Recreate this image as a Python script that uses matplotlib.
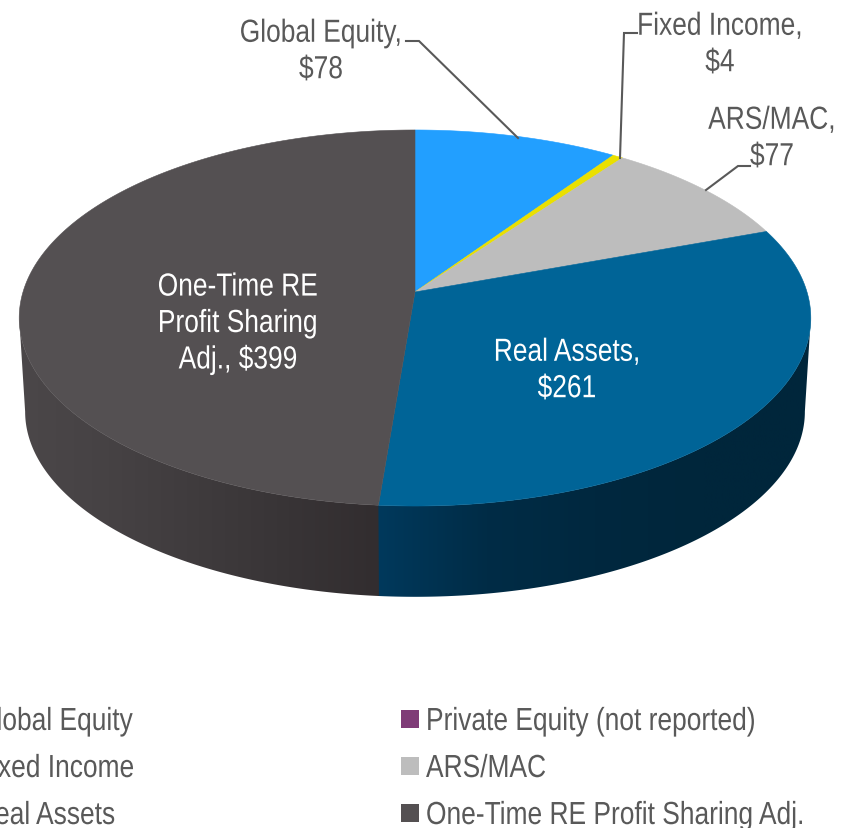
import numpy as np
import matplotlib
matplotlib.use("Agg")
import matplotlib.pyplot as plt
from matplotlib.colors import to_rgb
from matplotlib.patches import Polygon
from matplotlib.patheffects import AbstractPathEffect
from matplotlib.transforms import Affine2D

categories = ["Global Equity", "Private Equity (not reported)", "Fixed Income", "ARS/MAC", "Real Assets", "One-Time RE Profit Sharing Adj."]
values = [78, 0, 4, 77, 261, 399]
colors = ["#229FFF", "#7F3B77", "#EAE000", "#BDBDBD", "#006497", "#545052"]

plt.rcParams["font.family"] = ["Liberation Sans", "DejaVu Sans"]
FS = 23
GREY = "#595959"
NARROW = 0.825


class Condense(AbstractPathEffect):
    """Draw the text narrower about a fixed x, as no narrow face is installed."""
    def __init__(self, cx, factor=NARROW):
        super().__init__()
        self.cx, self.factor = cx, factor

    def draw_path(self, renderer, gc, tpath, affine, rgbFace=None):
        squeeze = Affine2D().translate(-self.cx, 0).scale(self.factor, 1).translate(self.cx, 0)
        renderer.draw_path(gc, tpath, affine + squeeze, rgbFace)


fig = plt.figure(figsize=(8.46, 8.29), dpi=100)
ax = fig.add_axes([0, 0, 1, 1])
ax.set_xlim(0, 846)
ax.set_ylim(829, 0)
ax.axis("off")

C = 0.1383


def top(t):
    u, v = np.sin(t), np.cos(t)
    w = C * v + 1
    return 415 + 392 * u / w, (-143.9 * v + 293) / w


def base(t, s=0.985, d=94.0):
    x, y = top(t)
    return 415 + s * (x - 415), 293 + s * (y - 293) + d


edges = np.radians(np.concatenate([[0], np.cumsum(values)]) / np.sum(values) * 360)

# visible side walls, with shading that runs horizontally; each stops at the outline's extreme
walls = [(4, 378, 811, ["#00395C", "#002C46", "#00283F", "#00263B", "#00263B"]),
         (5, 19, 380, ["#4B4749", "#464244", "#3F3B3D", "#383436", "#322D2F"])]
for i, x0, x1, stops in walls:
    t = np.linspace(edges[i], edges[i + 1], 800)
    xs, _ = top(t)
    if i == 4:
        t = t[np.argmax(xs):]
        t = np.r_[t, t[-1] + 0.02]
    else:
        t = t[:np.argmin(xs) + 1]
    xt, yt = top(t)
    xb, yb = base(t)
    poly = Polygon(np.c_[np.r_[xt, xb[::-1]], np.r_[yt, yb[::-1]]], closed=True,
                   transform=ax.transData, fc="none", ec="none")
    ax.add_patch(poly)
    rgb = np.array([to_rgb(c) for c in stops])
    px = np.linspace(0, 1, 256)
    pos = np.linspace(0, 1, len(stops))
    grad = np.stack([np.interp(px, pos, rgb[:, k]) for k in range(3)], axis=-1)[None, :, :]
    im = ax.imshow(grad, extent=(x0, x1, 610, 250), aspect="auto", zorder=1, interpolation="bilinear")
    im.set_clip_path(poly)
ax.set_xlim(0, 846)
ax.set_ylim(829, 0)

# top faces
for i, val in enumerate(values):
    if val == 0:
        continue
    t = np.linspace(edges[i], edges[i + 1], 240)
    x, y = top(t)
    ax.fill(np.r_[415, x], np.r_[293, y], color=colors[i], lw=0.4, zorder=2)

# leader lines
for xs, ys in [([406, 419, 518], [42, 42, 139]),
               ([637, 624, 620], [34, 34, 159]),
               ([750, 738, 706], [167, 167, 191])]:
    ax.plot(xs, ys, color=GREY, lw=1.5, zorder=3, solid_joinstyle="miter")

labels = [("Global Equity,\n$78", 321, 53, GREY),
          ("Fixed Income,\n$4", 720, 46, GREY),
          ("ARS/MAC,\n$77", 772, 140, GREY),
          ("One-Time RE\nProfit Sharing\nAdj., $399", 238, 325, "white"),
          ("Real Assets,\n$261", 567, 372, "white")]
for s, x, y, c in labels:
    ax.text(x, y, s, color=c, fontsize=FS, ha="center", va="center", linespacing=1.28,
            zorder=4, path_effects=[Condense(x)])

# legend
rows = [723, 770, 817]
marker_rows = [720, 767, 814]
slots = [(0, 0), (1, 0), (0, 1), (1, 1), (0, 2), (1, 2)]
for i, (col, r) in enumerate(slots):
    mx, tx = (-40, -24) if col == 0 else (410, 426)
    ax.scatter([mx], [marker_rows[r]], marker="s", s=150, color=colors[i], lw=0, clip_on=False, zorder=3)
    ax.text(tx, rows[r], categories[i], color=GREY, fontsize=FS, ha="left", va="center",
            clip_on=False, path_effects=[Condense(tx)])

fig.savefig("out.png", dpi=100, facecolor="white")
